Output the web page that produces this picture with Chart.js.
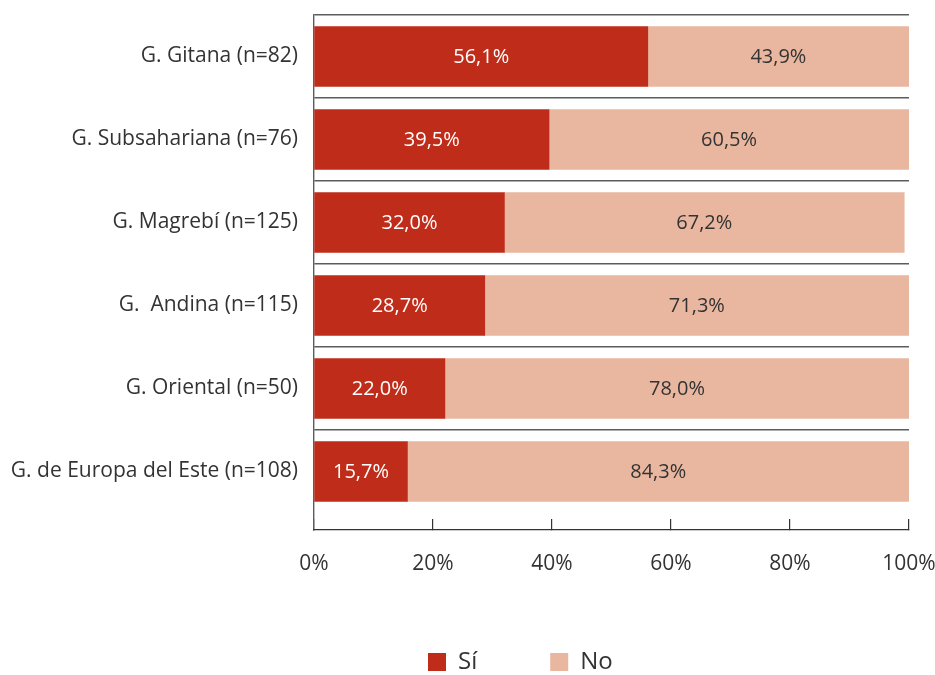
<!DOCTYPE html>
<html>
<head>
<meta charset="utf-8">
<script src="https://cdn.jsdelivr.net/npm/chart.js@4.4.1/dist/chart.umd.min.js"></script>
<style>
    html, body { margin: 0; padding: 0; background: #fff; }
    #wrap { width: 935px; height: 675px; position: relative; }
</style>
</head>
<body>
<div id="wrap"><canvas id="barChart"></canvas></div>
<script>
const categories = [
    'G. Gitana (n=82)',
    'G. Subsahariana (n=76)',
    'G. Magrebí (n=125)',
    'G.  Andina (n=115)',
    'G. Oriental (n=50)',
    'G. de Europa del Este (n=108)'
];
const siValues = [56.1, 39.5, 32.0, 28.7, 22.0, 15.7];
const noValues = [43.9, 60.5, 67.2, 71.3, 78.0, 84.3];
const xTicks = [0, 20, 40, 60, 80, 100];

const FONT = '"Open Sans", sans-serif';
const TEXT = '#333333';
const LEGEND_START = 428;   // x of the first legend box

function fmt(v) {
    return v.toFixed(1).replace('.', ',') + '%';
}

// values written inside each bar segment
const barLabels = {
    id: 'barLabels',
    afterDatasetsDraw(chart) {
        const ctx = chart.ctx;
        ctx.save();
        ctx.font = '20px ' + FONT;
        ctx.textAlign = 'center';
        ctx.textBaseline = 'middle';
        chart.data.datasets.forEach((ds, i) => {
            chart.getDatasetMeta(i).data.forEach((bar, j) => {
                const c = bar.getCenterPoint();
                ctx.fillStyle = i === 0 ? '#ffffff' : TEXT;
                ctx.fillText(fmt(ds.data[j]), c.x, c.y + 1);
            });
        });
        ctx.restore();
    }
};

// the legend in the original sits right of the page centre
const legendShift = {
    id: 'legendShift',
    afterLayout(chart) {
        const lg = chart.legend;
        if (!lg || !lg.lineWidths) return;
        const pad = lg.options.labels.padding;
        const start = (lg.left + pad + lg.right - lg.lineWidths[0]) / 2;
        const d = LEGEND_START - start;
        lg.left += d;
        lg.right += d;
    }
};

document.addEventListener('DOMContentLoaded', function () {
    const ctx = document.getElementById('barChart').getContext('2d');
    new Chart(ctx, {
        type: 'bar',
        data: {
            labels: categories.map((c, i) => i),
            datasets: [
                {
                    label: 'Sí',
                    data: siValues,
                    backgroundColor: '#BF2C1A',
                    borderWidth: 0
                },
                {
                    label: 'No',
                    data: noValues,
                    backgroundColor: '#E9B79F',
                    borderWidth: 0
                }
            ]
        },
        options: {
            indexAxis: 'y',
            responsive: true,
            maintainAspectRatio: false,
            animation: false,
            barThickness: 60,
            layout: {
                padding: { top: 15, left: 0, right: 0, bottom: -9 }
            },
            scales: {
                y: {
                    type: 'linear',
                    reverse: true,
                    stacked: true,
                    offset: false,
                    bounds: 'data',
                    min: -0.5,
                    max: 5.705,
                    afterBuildTicks: (scale) => { scale.ticks = categories.map((c, i) => ({ value: i })); },
                    afterFit: (scale) => {
                        scale.width = 314;
                        scale.paddingTop = 0;
                        scale.paddingBottom = 0;
                    },
                    grid: {
                        offset: true,
                        drawTicks: false,
                        color: (c) => c.type === 'tick' ? '#5c5c5c' : 'rgba(0,0,0,0)',
                        lineWidth: 1.4
                    },
                    border: { display: true, color: '#5c5c5c', width: 1.4 },
                    ticks: {
                        padding: 16,
                        color: TEXT,
                        font: { family: FONT, size: 21 },
                        callback: (v) => categories[v]
                    }
                },
                x: {
                    stacked: true,
                    min: 0,
                    max: 100,
                    afterBuildTicks: (scale) => { scale.ticks = xTicks.map(v => ({ value: v })); },
                    afterFit: (scale) => {
                        scale.height = 47;
                        scale.paddingRight = 26;
                        scale.paddingLeft = 0;
                    },
                    grid: {
                        drawOnChartArea: false,
                        drawTicks: true,
                        tickLength: -11,
                        color: '#333333',
                        lineWidth: 1.2
                    },
                    border: { display: true, color: '#333333', width: 1.2 },
                    ticks: {
                        padding: 32,
                        color: TEXT,
                        font: { family: FONT, size: 21 },
                        callback: (v) => v + '%'
                    }
                }
            },
            plugins: {
                legend: {
                    position: 'bottom',
                    labels: {
                        boxWidth: 18,
                        boxHeight: 18,
                        padding: 73,
                        color: TEXT,
                        font: { family: FONT, size: 24 }
                    }
                },
                tooltip: { enabled: false }
            }
        },
        plugins: [barLabels, legendShift]
    });
});
</script>
</body>
</html>
